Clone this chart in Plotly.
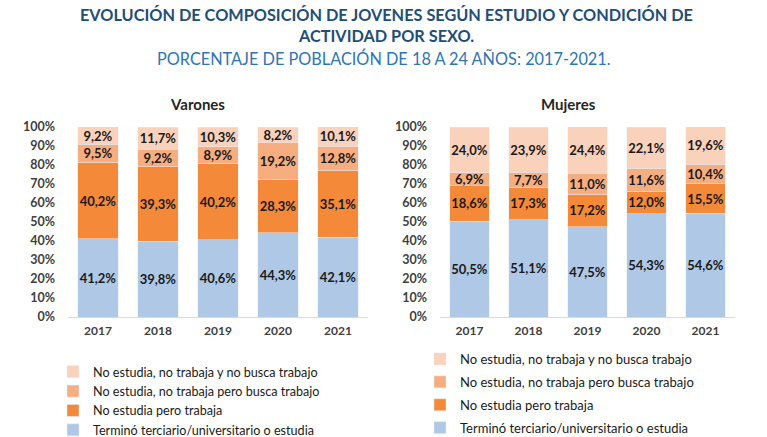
import plotly.graph_objects as go

years = ["2017", "2018", "2019", "2020", "2021"]
series_names = [
    "Terminó terciario/universitario o estudia",
    "No estudia pero trabaja",
    "No estudia, no trabaja pero busca trabajo",
    "No estudia, no trabaja y no busca trabajo",
]
colors = ["#AEC8E6", "#F4893A", "#F6AD7F", "#FAD1BA"]

varones_estudia = [41.2, 39.8, 40.6, 44.3, 42.1]
varones_trabaja = [40.2, 39.3, 40.2, 28.3, 35.1]
varones_busca = [9.5, 9.2, 8.9, 19.2, 12.8]
varones_nobusca = [9.2, 11.7, 10.3, 8.2, 10.1]

mujeres_estudia = [50.5, 51.1, 47.5, 54.3, 54.6]
mujeres_trabaja = [18.6, 17.3, 17.2, 12.0, 15.5]
mujeres_busca = [6.9, 7.7, 11.0, 11.6, 10.4]
mujeres_nobusca = [24.0, 23.9, 24.4, 22.1, 19.6]

varones = [varones_estudia, varones_trabaja, varones_busca, varones_nobusca]
mujeres = [mujeres_estudia, mujeres_trabaja, mujeres_busca, mujeres_nobusca]

FONT = "Lato"
W, H = 767, 437


def px_x(p):
    return p / W


def px_y(p):
    return 1 - p / H


fig = go.Figure()

label_font = dict(family=FONT, size=13, color="#1a1a1a", weight="bold")

for i, (name, vals) in enumerate(zip(series_names, varones)):
    fig.add_trace(go.Bar(
        x=years, y=vals, name=name, marker_color=colors[i],
        xaxis="x", yaxis="y", legend="legend", legendgroup="v%d" % i,
        texttemplate="%{y:.1f}%", textposition="inside", insidetextanchor="middle",
        textangle=0, constraintext="none", textfont=label_font,
        hoverinfo="skip",
    ))
n = len(series_names)
for i, (name, vals) in enumerate(zip(series_names, mujeres)):
    fig.add_trace(go.Bar(
        x=years, y=vals, name=name, marker_color=colors[i],
        xaxis="x2", yaxis="y2", legend="legend2", legendgroup="m%d" % i,
        legendrank=1000 + (n - i),
        texttemplate="%{y:.1f}%", textposition="inside", insidetextanchor="middle",
        textangle=0, constraintext="none", textfont=label_font,
        hoverinfo="skip",
    ))

ydom = [px_y(317), px_y(127)]
axis_common_y = dict(range=[0, 100], dtick=10, ticksuffix="%", tickformat="d",
                     showgrid=False, zeroline=False, showline=False,
                     tickfont=dict(family=FONT, size=12.5, color="#404040", weight="bold"),
                     fixedrange=True, ticklen=0, ticks="", ticklabelstandoff=12)
axis_common_x = dict(type="category", showgrid=False, zeroline=False, showline=True,
                     linecolor="#d9d9d9", linewidth=1, ticks="",
                     tickfont=dict(family=FONT, size=12, color="#404040", weight="bold"),
                     fixedrange=True, ticklabelstandoff=3)

legend_common = dict(bgcolor="rgba(0,0,0,0)",
                     xanchor="left", yanchor="top", itemwidth=30)


def title_ann(text, x, y, size, color, bold):
    f = dict(family=FONT, size=size, color=color)
    if bold:
        f["weight"] = "bold"
    return dict(text=text, x=px_x(x), y=px_y(y), xref="paper", yref="paper",
                xanchor="center", yanchor="middle", showarrow=False, font=f)


fig.update_layout(
    width=W, height=H,
    margin=dict(l=0, r=0, t=0, b=0, autoexpand=False),
    paper_bgcolor="white", plot_bgcolor="white",
    barmode="stack", bargap=0.33,
    separators=",.",
    showlegend=True,
    xaxis=dict(domain=[px_x(68), px_x(368)], anchor="y", **axis_common_x),
    yaxis=dict(domain=ydom, anchor="x", **axis_common_y),
    xaxis2=dict(domain=[px_x(440), px_x(735)], anchor="y2", **axis_common_x),
    yaxis2=dict(domain=ydom, anchor="x2", **axis_common_y),
    legend=dict(x=px_x(53), y=px_y(357), traceorder="reversed",
                font=dict(family=FONT, size=12.6, color="#1a1a1a"), **legend_common),
    legend2=dict(x=px_x(420), y=px_y(344), traceorder="grouped", tracegroupgap=3,
                 font=dict(family=FONT, size=13, color="#1a1a1a"), **legend_common),
    annotations=[
        title_ann("EVOLUCIÓN DE COMPOSICIÓN DE JOVENES SEGÚN ESTUDIO Y CONDICIÓN DE",
                  386, 14, 16.3, "#1F4E79", True),
        title_ann("ACTIVIDAD POR SEXO.", 386, 36, 16.3, "#1F4E79", True),
        title_ann("PORCENTAJE DE POBLACIÓN DE 18 A 24 AÑOS: 2017-2021.",
                  384, 58, 16.3, "#2E75B6", False),
        title_ann("Varones", 197, 104, 15, "#262626", True),
        title_ann("Mujeres", 568, 104, 15, "#262626", True),
    ],
)

fig.write_html("out.html")
